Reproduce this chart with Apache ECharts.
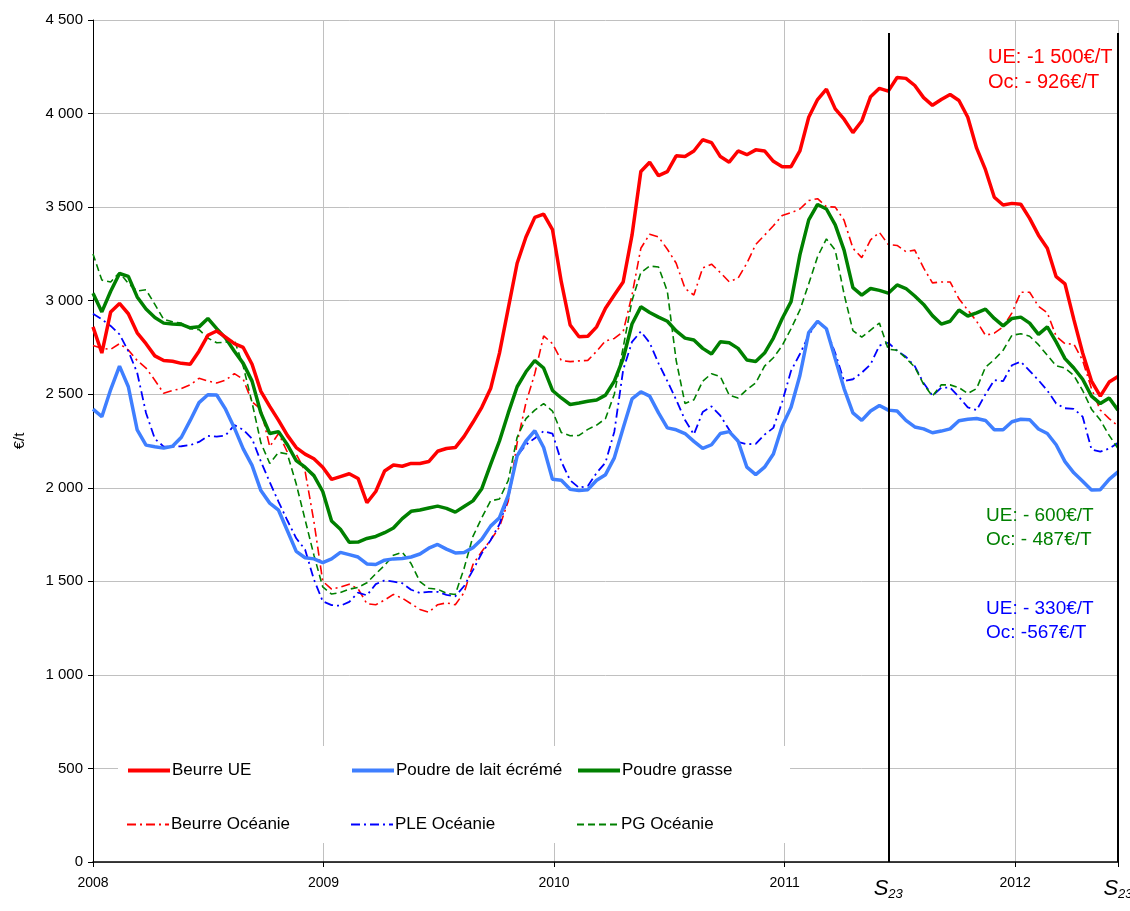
<!DOCTYPE html>
<html>
<head>
<meta charset="utf-8">
<script src="https://cdn.jsdelivr.net/npm/echarts@6/dist/echarts.min.js"></script>
<style>
  html, body { margin: 0; padding: 0; background: #fff; }
  #main { width: 1130px; height: 911px; }
</style>
</head>
<body>
<div id="main"></div>
<script>
// semaines depuis début 2008 (pas de 2 semaines)
const weeks = [0,2,4,6,8,10,12,14,16,18,20,22,24,26,28,30,32,34,36,38,40,42,44,46,48,50,52,54,56,58,
  60,62,64,66,68,70,72,74,76,78,80,82,84,86,88,90,92,94,96,98,100,102,104,106,108,110,112,114,116,118,
  120,122,124,126,128,130,132,134,136,138,140,142,144,146,148,150,152,154,156,158,160,162,164,166,168,170,172,174,176,178,
  180,182,184,186,188,190,192,194,196,198,200,202,204,206,208,210,212,214,216,218,220,222,224,226,228,230,232]
const weeksPerYear = 52.18
const yearLabels = ['2008', '2009', '2010', '2011', '2012']
const s23Weeks = [180, 232]

const beurreUE = [2860,2720,2940,2985,2930,2828,2770,2705,2680,2676,
  2665,2660,2730,2815,2838,2805,2770,2750,2660,2515,
  2435,2360,2280,2215,2180,2155,2110,2045,2060,2075,
  2050,1920,1980,2090,2122,2115,2130,2130,2140,2195,
  2210,2215,2275,2350,2430,2530,2720,2960,3200,3340,
  3445,3463,3380,3100,2870,2807,2810,2860,2960,3030,
  3100,3350,3690,3740,3668,3690,3774,3770,3800,3860,
  3845,3770,3740,3800,3780,3806,3800,3745,3716,3716,
  3800,3980,4075,4130,4025,3970,3898,3960,4090,4135,
  4120,4193,4188,4150,4085,4044,4075,4102,4070,3980,
  3815,3700,3553,3511,3520,3515,3440,3350,3280,3128,
  3090,2900,2720,2570,2490,2565,2595]

const poudreLaitUE = [2420,2380,2525,2650,2540,2310,2228,2219,2212,2222,
  2270,2360,2455,2497,2496,2420,2320,2208,2120,1985,
  1918,1880,1770,1660,1626,1620,1600,1620,1655,1643,
  1630,1593,1590,1613,1620,1622,1630,1646,1677,1697,
  1672,1652,1654,1680,1725,1795,1840,1960,2170,2250,
  2305,2215,2045,2040,1992,1985,1990,2040,2070,2160,
  2320,2475,2513,2490,2400,2320,2310,2290,2248,2210,
  2230,2290,2300,2250,2110,2070,2110,2180,2330,2430,
  2600,2830,2890,2850,2690,2530,2400,2360,2410,2440,
  2415,2410,2360,2325,2315,2294,2303,2315,2358,2366,
  2370,2360,2310,2310,2353,2366,2364,2314,2290,2230,
  2140,2080,2035,1988,1990,2045,2085]

const poudreGrasseUE = [3040,2940,3050,3145,3130,3020,2955,2910,2880,2875,
  2873,2855,2860,2905,2850,2800,2730,2665,2570,2400,
  2290,2300,2230,2145,2110,2065,1980,1822,1778,1709,
  1710,1729,1740,1760,1785,1835,1874,1881,1892,1902,
  1890,1870,1900,1930,1995,2125,2250,2400,2540,2620,
  2680,2640,2520,2480,2445,2453,2462,2469,2495,2570,
  2690,2875,2967,2937,2912,2890,2838,2800,2790,2745,
  2715,2780,2775,2745,2683,2675,2720,2800,2905,2995,
  3245,3432,3514,3490,3405,3270,3070,3030,3065,3055,
  3040,3084,3065,3025,2980,2920,2875,2890,2950,2918,
  2935,2955,2905,2865,2905,2912,2880,2820,2860,2780,
  2690,2640,2580,2490,2450,2480,2415]

const beurreOc = [2760,2745,2740,2770,2736,2680,2640,2575,2505,2520,
  2530,2550,2585,2570,2560,2575,2610,2580,2460,2420,
  2220,2290,2190,2180,2090,1820,1500,1458,1469,1485,
  1460,1380,1375,1400,1430,1410,1380,1350,1335,1375,
  1385,1375,1440,1590,1660,1720,1790,1930,2240,2455,
  2610,2812,2770,2680,2674,2678,2681,2730,2785,2798,
  2835,3030,3280,3355,3340,3275,3200,3065,3030,3175,
  3195,3150,3101,3120,3200,3300,3350,3400,3455,3470,
  3490,3535,3545,3502,3500,3430,3280,3230,3325,3365,
  3300,3295,3262,3270,3175,3095,3100,3100,3010,2950,
  2890,2815,2826,2860,2935,3045,3045,2970,2935,2810,
  2770,2768,2680,2530,2415,2370,2330]

const pleOc = [2930,2900,2865,2820,2730,2615,2400,2262,2220,2220,
  2222,2228,2245,2277,2273,2280,2335,2310,2262,2140,
  2030,1925,1825,1730,1670,1510,1393,1373,1369,1390,
  1440,1425,1485,1505,1499,1490,1455,1438,1444,1444,
  1428,1420,1475,1560,1650,1720,1805,1950,2170,2230,
  2265,2303,2290,2140,2040,2000,2010,2080,2135,2300,
  2630,2780,2835,2775,2665,2570,2470,2362,2285,2405,
  2435,2385,2310,2245,2233,2235,2284,2320,2460,2625,
  2715,2815,2890,2845,2720,2570,2580,2615,2660,2760,
  2775,2732,2700,2650,2560,2492,2535,2535,2485,2430,
  2415,2500,2575,2570,2655,2674,2625,2575,2520,2450,
  2425,2422,2380,2205,2193,2210,2240]

const pgOc = [3250,3110,3100,3150,3092,3052,3058,2980,2900,2887,
  2880,2850,2845,2800,2775,2778,2790,2650,2455,2240,
  2130,2190,2180,2020,1830,1640,1470,1432,1440,1458,
  1468,1492,1540,1585,1640,1655,1595,1498,1463,1458,
  1436,1430,1570,1740,1840,1930,1940,2040,2270,2370,
  2415,2450,2410,2295,2278,2280,2312,2335,2370,2500,
  2750,3000,3150,3185,3180,3050,2680,2450,2470,2570,
  2610,2594,2495,2480,2525,2560,2650,2695,2760,2850,
  2950,3090,3235,3330,3270,3035,2840,2805,2843,2880,
  2740,2735,2693,2645,2553,2490,2550,2550,2535,2504,
  2530,2645,2685,2735,2815,2823,2810,2765,2708,2652,
  2640,2600,2520,2420,2362,2280,2210]

const sans = "'Liberation Sans', Arial, sans-serif"

function toPoints (vals) {
  return weeks.map((w, i) => [w, vals[i]])
}

// séries : nom, valeurs, couleur, épaisseur, tirets
const seriesDefs = [
  { name: 'Beurre Océanie', data: beurreOc, color: '#ff0000', width: 1.6, type: [9, 4, 2, 4] },
  { name: 'PLE Océanie', data: pleOc, color: '#0000ff', width: 1.8, type: [9, 4, 2, 4] },
  { name: 'PG Océanie', data: pgOc, color: '#008000', width: 1.6, type: [7, 4] },
  { name: 'Poudre de lait écrémé', data: poudreLaitUE, color: '#3f7fff', width: 3.5, type: 'solid' },
  { name: 'Poudre grasse', data: poudreGrasseUE, color: '#008000', width: 3.5, type: 'solid' },
  { name: 'Beurre UE', data: beurreUE, color: '#ff0000', width: 3.5, type: 'solid' }
]

// légende : 2 lignes x 3 colonnes
const legendItems = [
  { name: 'Beurre UE', left: 126, top: 762, width: 4 },
  { name: 'Poudre de lait écrémé', left: 350, top: 762, width: 4 },
  { name: 'Poudre grasse', left: 576, top: 762, width: 4 },
  { name: 'Beurre Océanie', left: 126, top: 816, width: 2 },
  { name: 'PLE Océanie', left: 350, top: 816, width: 2 },
  { name: 'PG Océanie', left: 576, top: 816, width: 2 }
]

const notes = [
  { text: 'UE: -1 500€/T', color: '#ff0000', left: 988, top: 47 },
  { text: 'Oc: - 926€/T', color: '#ff0000', left: 988, top: 72 },
  { text: 'UE: - 600€/T', color: '#008000', left: 986, top: 506 },
  { text: 'Oc: - 487€/T', color: '#008000', left: 986, top: 530 },
  { text: 'UE: - 330€/T', color: '#0000ff', left: 986, top: 599 },
  { text: 'Oc: -567€/T', color: '#0000ff', left: 986, top: 623 }
]

const myChart = echarts.init(document.getElementById('main'))

const series = seriesDefs.map(def => {
  return {
    name: def.name,
    type: 'line',
    symbol: 'none',
    animation: false,
    data: toPoints(def.data),
    lineStyle: { color: def.color, width: def.width, type: def.type },
    itemStyle: { color: def.color }
  }
})

// traits verticaux S23
series[series.length - 1].markLine = {
  silent: true,
  symbol: 'none',
  animation: false,
  lineStyle: { color: '#000', width: 2, type: 'solid' },
  label: {
    show: true,
    position: 'end',
    distance: 14,
    formatter: '{s|S}{n|23}',
    rich: {
      s: { fontFamily: sans, fontSize: 22, fontStyle: 'italic', color: '#000' },
      n: { fontFamily: sans, fontSize: 13, fontStyle: 'italic', color: '#000', padding: [12, 0, 0, 0] }
    }
  },
  data: s23Weeks.map(w => [{ coord: [w, 4430] }, { coord: [w, 0] }])
}

const option = {
  animation: false,
  backgroundColor: '#fff',
  grid: { left: 93, right: 12, top: 20, bottom: 49 },
  xAxis: {
    type: 'value',
    min: 0,
    max: 232,
    interval: weeksPerYear,
    axisLine: { lineStyle: { color: '#000', width: 1.5 } },
    axisTick: { show: true, length: 5, lineStyle: { color: '#000' } },
    splitLine: { show: true, lineStyle: { color: '#c0c0c0', width: 1 } },
    axisLabel: {
      margin: 14,
      color: '#000',
      fontFamily: sans,
      fontSize: 14,
      formatter: v => {
        const i = Math.round(v / weeksPerYear)
        return Math.abs(v - i * weeksPerYear) < 0.5 ? yearLabels[i] : ''
      }
    }
  },
  yAxis: {
    type: 'value',
    min: 0,
    max: 4500,
    interval: 500,
    name: '€/t',
    nameLocation: 'middle',
    nameRotate: 90,
    nameGap: 66,
    nameTextStyle: { color: '#000', fontFamily: sans, fontSize: 15 },
    axisLine: { show: true, lineStyle: { color: '#000', width: 1 } },
    axisTick: { show: true, length: 5, lineStyle: { color: '#000' } },
    splitLine: { show: true, lineStyle: { color: '#c0c0c0', width: 1 } },
    axisLabel: {
      margin: 10,
      color: '#000',
      fontFamily: sans,
      fontSize: 15,
      formatter: v => v >= 1000 ? Math.floor(v / 1000) + ' ' + String(v % 1000).padStart(3, '0') : String(v)
    }
  },
  legend: legendItems.map(item => {
    return {
      data: [item.name],
      left: item.left,
      top: item.top,
      padding: 0,
      itemWidth: 42,
      itemHeight: 14,
      itemGap: 0,
      z: 20,
      selectedMode: false,
      itemStyle: { opacity: 0 },
      lineStyle: { width: item.width },
      textStyle: { color: '#000', fontFamily: sans, fontSize: 17, padding: [0, 0, 0, -3] }
    }
  }),
  graphic: [
    {
      type: 'rect',
      left: 118,
      top: 746,
      z: 10,
      shape: { width: 672, height: 97 },
      style: { fill: '#fff' }
    }
  ].concat(notes.map(n => {
    return {
      type: 'text',
      left: n.left,
      top: n.top,
      z: 10,
      style: { text: n.text, fill: n.color, font: (n.color === '#ff0000' ? '20px ' : '19px ') + sans }
    }
  })),
  series: series
}

myChart.setOption(option)
</script>
</body>
</html>
